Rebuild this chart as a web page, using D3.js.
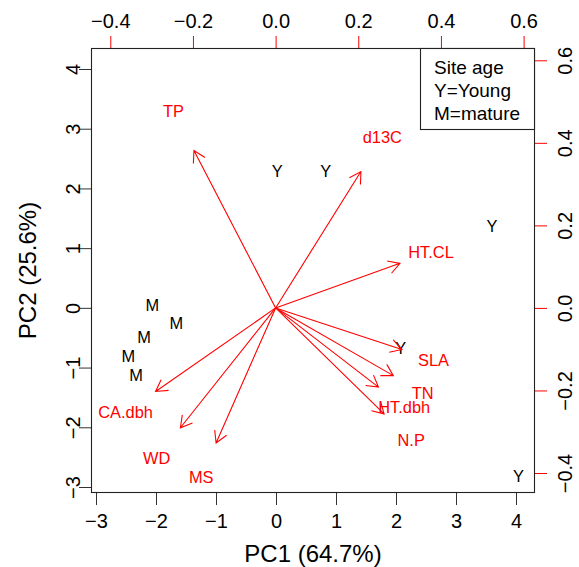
<!DOCTYPE html>
<html>
<head>
<meta charset="utf-8">
<script src="https://cdn.jsdelivr.net/npm/d3@7"></script>
<style>
  html, body { margin: 0; padding: 0; background: #fff; }
  svg { display: block; font-family: "Liberation Sans", Arial, sans-serif; }
</style>
</head>
<body>
<div id="chart"></div>
<script>
// site scores (PC1, PC2)
const siteLabels = ["Y", "Y", "Y", "Y", "Y", "M", "M", "M", "M", "M"];
const pc1 = [0.02, 0.83, 3.60, 2.08, 4.04, -2.06, -1.66, -2.20, -2.46, -2.33];
const pc2 = [2.30, 2.30, 1.37, -0.68, -2.81, 0.05, -0.25, -0.49, -0.80, -1.13];

// trait loadings (label positions; arrows drawn to 0.8 of these)
const traits = ["TP", "d13C", "HT.CL", "SLA", "TN", "HT.dbh", "N.P", "CA.dbh", "WD", "MS"];
const load1 = [-0.247, 0.258, 0.376, 0.382, 0.356, 0.311, 0.328, -0.363, -0.288, -0.180];
const load2 = [0.477, 0.413, 0.135, -0.126, -0.205, -0.240, -0.321, -0.253, -0.363, -0.409];

const scoreTicks = [-3, -2, -1, 0, 1, 2, 3, 4];
const loadTicks = [-0.4, -0.2, 0, 0.2, 0.4, 0.6];
const legendLines = ["Site age", "Y=Young", "M=mature"];

const W = 579, H = 567;
const box = { x0: 91.5, x1: 534.5, y0: 48.5, y1: 492.5 };
const red = "#ff0000";
const labelSize = 16.4;

const svg = d3.select("#chart").append("svg")
    .attr("width", W)
    .attr("height", H);

const x = d3.scaleLinear().domain([-3, 4]).range([96, 516]);
const y = d3.scaleLinear().domain([-3, 4]).range([487, 69]);
const u = d3.scaleLinear().domain([-0.4, 0.6]).range([110.3, 523.6]);
const v = d3.scaleLinear().domain([-0.4, 0.6]).range([473, 60.3]);

// axes
let gB = svg.append("g").attr("transform", `translate(0,${box.y1})`)
    .call(d3.axisBottom(x).tickValues(scoreTicks).tickSize(12.5).tickFormat(d3.format("d")));
gB.select(".domain").remove();
gB.selectAll("line").attr("stroke", "#333");
gB.selectAll("text").attr("y", 35.5).attr("dy", null);

let gL = svg.append("g").attr("transform", `translate(${box.x0},0)`)
    .call(d3.axisLeft(y).tickValues(scoreTicks).tickSize(12.5).tickFormat(d3.format("d")));
gL.select(".domain").remove();
gL.selectAll("line").attr("stroke", "#333");
gL.selectAll("text").attr("x", 0).attr("dy", null)
    .attr("text-anchor", "middle")
    .attr("transform", "translate(-11.5,0) rotate(-90)");

let gT = svg.append("g").attr("transform", `translate(0,${box.y0})`)
    .call(d3.axisTop(u).tickValues(loadTicks).tickSize(12.5).tickFormat(d3.format(".1f")));
gT.select(".domain").remove();
gT.selectAll("line").attr("stroke", red);
gT.selectAll("text").attr("y", -20.3).attr("dy", null);

let gR = svg.append("g").attr("transform", `translate(${box.x1},0)`)
    .call(d3.axisRight(v).tickValues(loadTicks).tickSize(12.5).tickFormat(d3.format(".1f")));
gR.select(".domain").remove();
gR.selectAll("line").attr("stroke", red);
gR.selectAll("text").attr("x", 0).attr("dy", null)
    .attr("text-anchor", "middle")
    .attr("transform", "translate(37,0) rotate(-90)");

svg.selectAll(".tick text")
    .attr("fill", "#000")
    .attr("font-size", 20)
    .attr("font-family", "Liberation Sans, Arial, sans-serif");

// plot box
svg.append("rect")
    .attr("x", box.x0).attr("y", box.y0)
    .attr("width", box.x1 - box.x0).attr("height", box.y1 - box.y0)
    .attr("fill", "none").attr("stroke", "#222").attr("stroke-width", 1.1);

// axis titles
svg.append("text")
    .attr("x", (box.x0 + box.x1) / 2).attr("y", 561.5)
    .attr("text-anchor", "middle").attr("font-size", 24)
    .text("PC1 (64.7%)");
svg.append("text")
    .attr("transform", `translate(36,${(box.y0 + box.y1) / 2}) rotate(-90)`)
    .attr("text-anchor", "middle").attr("font-size", 24)
    .text("PC2 (25.6%)");

// site labels
svg.append("g").selectAll("text")
    .data(siteLabels)
    .join("text")
    .attr("x", (d, i) => x(pc1[i]))
    .attr("y", (d, i) => y(pc2[i]))
    .attr("text-anchor", "middle")
    .attr("dominant-baseline", "central")
    .attr("font-size", labelSize)
    .attr("fill", "#000")
    .text(d => d);

// loading arrows
const headLen = 13, headAng = Math.PI / 6;
const ox = u(0), oy = v(0);
svg.append("g").selectAll("path")
    .data(traits)
    .join("path")
    .attr("d", (d, i) => {
        const tx = u(load1[i] * 0.8), ty = v(load2[i] * 0.8);
        const a = Math.atan2(ty - oy, tx - ox);
        const p = d3.path();
        p.moveTo(ox, oy);
        p.lineTo(tx, ty);
        p.moveTo(tx - headLen * Math.cos(a - headAng), ty - headLen * Math.sin(a - headAng));
        p.lineTo(tx, ty);
        p.lineTo(tx - headLen * Math.cos(a + headAng), ty - headLen * Math.sin(a + headAng));
        return p.toString();
    })
    .attr("fill", "none")
    .attr("stroke", red)
    .attr("stroke-width", 1.1);

svg.append("g").selectAll("text")
    .data(traits)
    .join("text")
    .attr("x", (d, i) => u(load1[i]))
    .attr("y", (d, i) => v(load2[i]))
    .attr("text-anchor", "middle")
    .attr("dominant-baseline", "central")
    .attr("font-size", labelSize)
    .attr("fill", red)
    .text(d => d);

// legend
const leg = svg.append("g");
leg.append("rect")
    .attr("x", 420.5).attr("y", box.y0)
    .attr("width", box.x1 - 420.5).attr("height", 81)
    .attr("fill", "#fff").attr("stroke", "#222").attr("stroke-width", 1.1);
leg.selectAll("text")
    .data(legendLines)
    .join("text")
    .attr("x", 434)
    .attr("y", (d, i) => 73.5 + i * 23.3)
    .attr("font-size", 19)
    .attr("fill", "#000")
    .text(d => d);
</script>
</body>
</html>
